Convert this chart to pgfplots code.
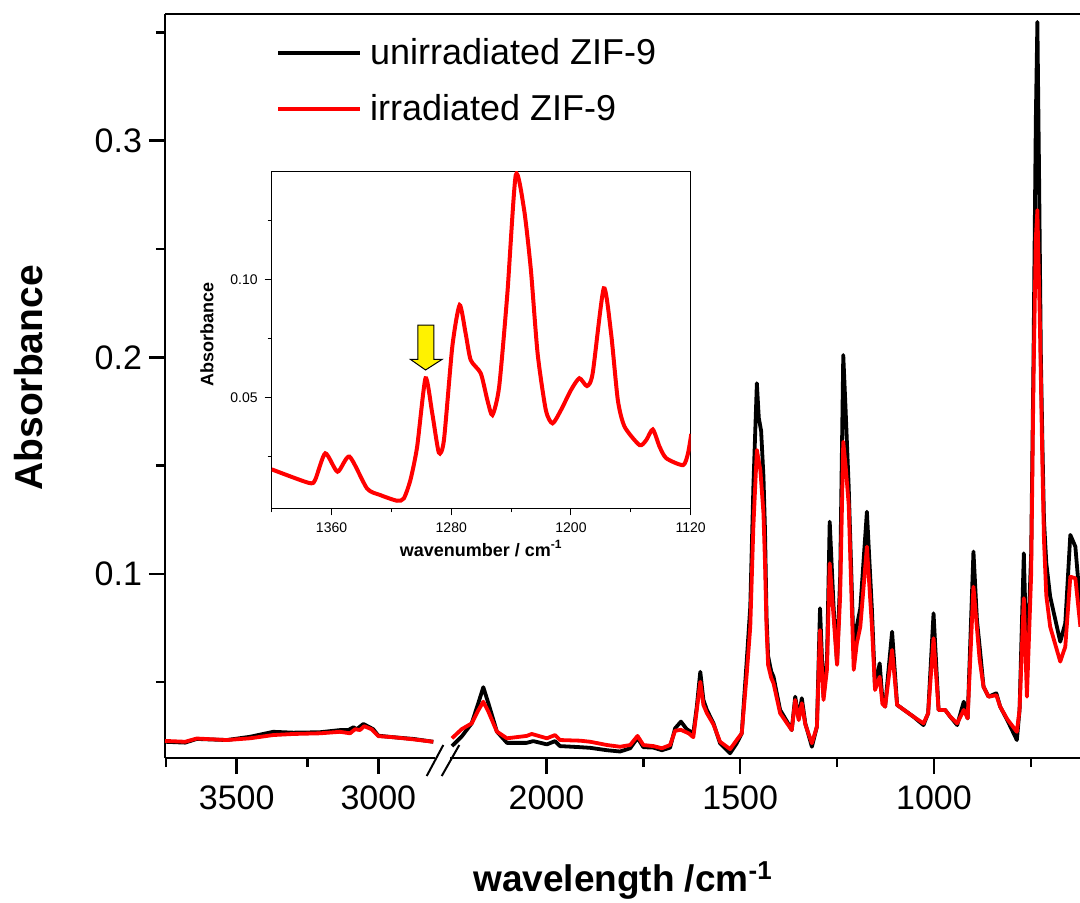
\documentclass[border=0pt]{standalone}
\usepackage{fontspec}
\setmainfont{Liberation Sans}
\usepackage{pgfplots}
\pgfplotsset{compat=1.18}

\pgfplotsset{
  spec/.style={line width=1.9pt, line join=round},
  mainax/.style={
    scale only axis, height=372pt,
    ymin=0.015, ymax=0.3585,
    tick align=outside,
    major tick length=8pt, minor tick length=4.5pt,
    tick style={line width=1.25pt, black},
    axis line style={-, line width=1.25pt},
    tick label style={font=\fontsize{17}{20}\selectfont},
    xticklabel style={yshift=-2.5pt},
    /pgf/number format/assume math mode=true,
    /pgf/number format/1000 sep={},
    x dir=reverse,
  },
}

\begin{document}
\begin{tikzpicture}
\useasboundingbox (0,0) rectangle (540pt,451pt);

% left segment, 3750-2800
\begin{axis}[mainax,
  at={(82.5pt,72pt)}, anchor=south west, width=135pt,
  xmin=2800, xmax=3753,
  axis x line*=bottom, axis y line*=left,
  xtick={3000,3500}, minor xtick={3250,3750},
  ytick={0.1,0.2,0.3}, minor ytick={0.05,0.15,0.25,0.35},
  ylabel={\bfseries Absorbance},
  ylabel style={font=\fontsize{19.5}{22}\selectfont, at={(axis description cs:-0.504,0.511)}, anchor=center},
  legend style={draw=none, fill=none, at={(axis description cs:0.411,0.973)}, anchor=north west,
    font=\fontsize{18}{21}\selectfont, row sep=9.5pt, column sep=2pt, inner sep=0pt},
  legend cell align=left,
  legend image code/.code={\draw[#1] (0pt,0pt) -- (41pt,0pt);},
]
\addplot[spec, black] coordinates {
(3753,0.0225)(3682,0.0221)(3641,0.0238)(3535,0.0233)(3453,0.0248)(3371,0.0271)(3300,0.0267)
(3206,0.0269)(3135,0.0279)(3106,0.0279)(3088,0.0292)(3076,0.0283)(3053,0.0307)(3035,0.0295)
(3018,0.0283)(3000,0.0253)(2947,0.0246)(2876,0.0238)(2806,0.0225)
};
\addlegendentry{unirradiated ZIF-9}
\addplot[spec, red] coordinates {
(3753,0.0229)(3682,0.0225)(3641,0.0240)(3535,0.0233)(3453,0.0241)(3371,0.0256)(3300,0.0261)
(3206,0.0264)(3135,0.0271)(3100,0.0264)(3082,0.0283)(3065,0.0279)(3050,0.0297)(3024,0.0283)
(3000,0.0251)(2947,0.0246)(2876,0.0236)(2806,0.0225)
};
\addlegendentry{irradiated ZIF-9}
\end{axis}

% right segment, 2250-620
\begin{axis}[mainax,
  at={(225pt,72pt)}, anchor=south west, width=315pt,
  xmin=623, xmax=2249,
  axis x line*=bottom, axis y line=none,
  xtick={1000,1500,2000}, minor xtick={750,1250,1750,2250},
  ytick=\empty,
  xlabel={\bfseries wavelength /cm\textsuperscript{-1}},
  xlabel style={font=\fontsize{18.5}{22}\selectfont, at={(axis description cs:0.2746,-0.180)}, anchor=base},
]
\addplot[spec, black] coordinates {
(2244,0.0205)(2219,0.0249)(2193,0.0310)(2176,0.0403)(2163,0.0477)(2150,0.0403)(2128,0.0272)(2102,0.0220)
(2051,0.0220)(2034,0.0228)(1999,0.0213)(1978,0.0228)(1965,0.0205)(1913,0.0200)(1887,0.0197)(1844,0.0186)
(1810,0.0180)(1784,0.0195)(1765,0.0243)(1750,0.0200)(1724,0.0198)(1702,0.0186)(1681,0.0198)(1668,0.0287)
(1653,0.0318)(1638,0.0283)(1621,0.0264)(1612,0.0387)(1603,0.0548)(1595,0.0418)(1586,0.0372)(1569,0.0310)
(1552,0.0218)(1526,0.0172)(1509,0.0218)(1496,0.0264)(1483,0.0603)(1474,0.0849)(1466,0.1403)(1457,0.1880)
(1452,0.1720)(1446,0.1660)(1440,0.1450)(1436,0.1200)(1432,0.0800)(1428,0.0620)(1420,0.0550)(1414,0.0525)
(1397,0.0372)(1379,0.0318)(1367,0.0279)(1358,0.0433)(1349,0.0333)(1341,0.0426)(1332,0.0310)(1315,0.0202)
(1302,0.0295)(1294,0.0841)(1285,0.0433)(1276,0.0603)(1269,0.1241)(1259,0.0849)(1250,0.0587)(1242,0.0987)
(1234,0.2010)(1228,0.1760)(1220,0.1403)(1207,0.0634)(1199,0.0760)(1190,0.0841)(1173,0.1287)(1160,0.0833)
(1152,0.0479)(1140,0.0587)(1133,0.0420)(1126,0.0387)(1108,0.0733)(1095,0.0395)(1053,0.0341)(1027,0.0302)
(1015,0.0356)(1001,0.0818)(988,0.0372)(971,0.0372)(958,0.0341)(940,0.0302)(923,0.0410)(913,0.0333)
(898,0.1103)(889,0.0787)(882,0.0664)(872,0.0479)(859,0.0433)(839,0.0449)(829,0.0387)(811,0.0326)
(786,0.0233)(779,0.0372)(768,0.1095)(760,0.0541)(749,0.1095)(743,0.2000)(737,0.3100)(733,0.3548)
(729,0.2900)(724,0.2000)(720,0.1600)(716,0.1250)(710,0.1050)(700,0.0895)(674,0.0687)(661,0.0772)
(648,0.1180)(635,0.1126)(622,0.0849)
};
\addplot[spec, red] coordinates {
(2244,0.0241)(2219,0.0283)(2193,0.0310)(2176,0.0370)(2163,0.0410)(2150,0.0364)(2128,0.0272)(2102,0.0241)
(2051,0.0252)(2038,0.0261)(1999,0.0241)(1978,0.0256)(1965,0.0233)(1913,0.0230)(1887,0.0225)(1844,0.0210)
(1810,0.0202)(1784,0.0210)(1765,0.0252)(1750,0.0210)(1724,0.0205)(1702,0.0195)(1681,0.0210)(1668,0.0276)
(1653,0.0280)(1633,0.0264)(1621,0.0246)(1612,0.0372)(1603,0.0502)(1595,0.0395)(1586,0.0357)(1569,0.0305)
(1552,0.0225)(1526,0.0191)(1509,0.0233)(1496,0.0264)(1483,0.0541)(1474,0.0756)(1466,0.1218)(1457,0.1572)
(1452,0.1520)(1448,0.1480)(1440,0.1280)(1436,0.1050)(1432,0.0750)(1428,0.0580)(1420,0.0520)(1414,0.0495)
(1397,0.0357)(1379,0.0310)(1367,0.0279)(1358,0.0418)(1349,0.0325)(1341,0.0403)(1332,0.0305)(1315,0.0218)
(1302,0.0295)(1294,0.0741)(1285,0.0418)(1276,0.0560)(1269,0.1049)(1259,0.0802)(1250,0.0580)(1242,0.0900)
(1234,0.1610)(1228,0.1500)(1220,0.1320)(1207,0.0557)(1199,0.0680)(1190,0.0756)(1173,0.1126)(1160,0.0756)
(1152,0.0464)(1140,0.0525)(1133,0.0400)(1126,0.0387)(1108,0.0649)(1095,0.0395)(1053,0.0341)(1027,0.0310)
(1015,0.0356)(1001,0.0703)(988,0.0372)(971,0.0372)(958,0.0341)(940,0.0310)(923,0.0372)(913,0.0333)
(898,0.0941)(889,0.0750)(882,0.0603)(872,0.0479)(859,0.0433)(839,0.0440)(829,0.0387)(811,0.0330)
(786,0.0271)(779,0.0372)(768,0.0888)(760,0.0433)(749,0.1000)(743,0.1900)(737,0.2550)(733,0.2680)
(727,0.2200)(720,0.1500)(716,0.1157)(710,0.0900)(700,0.0756)(674,0.0595)(661,0.0664)(648,0.0987)
(635,0.0980)(622,0.0756)
};
\end{axis}

% top frame line and axis break marks
\draw[line width=1.25pt] (82.5pt,444pt) -- (540pt,444pt);
\draw[line width=1pt] (213.35pt,63pt) -- (221.65pt,78.5pt);
\draw[line width=1pt] (220.85pt,63pt) -- (229.65pt,78.5pt);

% inset
\begin{axis}[
  at={(135.85pt,196.85pt)}, anchor=south west,
  width=209.5pt, height=168.3pt, scale only axis,
  axis background/.style={fill=white},
  x dir=reverse, xmin=1120, xmax=1400, ymin=0.003, ymax=0.1456,
  xtick={1120,1200,1280,1360}, minor xtick={1160,1240,1320,1400},
  ytick={0.05,0.10}, minor ytick={0.025,0.075,0.125},
  xtick pos=bottom, ytick pos=left, tick align=outside,
  major tick length=3.5pt, minor tick length=2pt,
  axis line style={line width=0.6pt},
  tick style={line width=0.5pt, black},
  tick label style={font=\fontsize{7}{8}\selectfont},
  /pgf/number format/assume math mode=true,
  /pgf/number format/1000 sep={},
  yticklabel style={/pgf/number format/fixed, /pgf/number format/precision=2, /pgf/number format/fixed zerofill},
  xlabel={\bfseries wavenumber / cm\textsuperscript{-1}},
  xlabel style={font=\fontsize{9}{10}\selectfont, at={(axis description cs:0.5,-0.1417)}, anchor=base},
  ylabel={\bfseries Absorbance},
  ylabel style={font=\fontsize{9}{10}\selectfont, at={(axis description cs:-0.1544,0.515)}, anchor=center},
]
\addplot[red, line width=2pt, smooth, tension=0.4] coordinates {
(1400,0.0195)(1375.4,0.0138)(1371,0.0150)(1364.2,0.0263)(1356,0.0185)(1348,0.0249)(1336.3,0.0114)
(1327.4,0.0086)(1316.2,0.0062)(1311.7,0.0072)(1307.3,0.0150)(1302.8,0.0291)(1297.2,0.0581)(1292.7,0.0432)
(1288.3,0.0266)(1284.9,0.0319)(1279.3,0.0715)(1274.4,0.0891)(1270.4,0.0771)(1267.0,0.0658)(1260.3,0.0602)
(1255.9,0.0489)(1252.5,0.0425)(1248.0,0.0545)(1242.5,0.0941)(1236.9,0.1442)(1231.3,0.1294)(1226.8,0.1040)
(1222.3,0.0686)(1216.8,0.0446)(1212.3,0.0390)(1206.7,0.0446)(1200,0.0531)(1194.4,0.0581)(1189.3,0.0548)
(1185.5,0.0602)(1178.1,0.0962)(1173.2,0.0771)(1168.7,0.0489)(1164.2,0.0376)(1154.2,0.0298)(1149.7,0.0319)
(1145.3,0.0364)(1140.8,0.0291)(1136.3,0.0242)(1125.1,0.0213)(1121.8,0.0263)(1119.6,0.0345)
};
\draw[fill=yellow, line width=0.5pt, line join=miter]
  (axis cs:1302.3,0.0806) -- (axis cs:1291.6,0.0806) -- (axis cs:1291.6,0.0661)
  -- (axis cs:1286.1,0.0661) -- (axis cs:1297.2,0.0616) -- (axis cs:1307.3,0.0661)
  -- (axis cs:1302.3,0.0661) -- cycle;
\end{axis}
\end{tikzpicture}
\end{document}
